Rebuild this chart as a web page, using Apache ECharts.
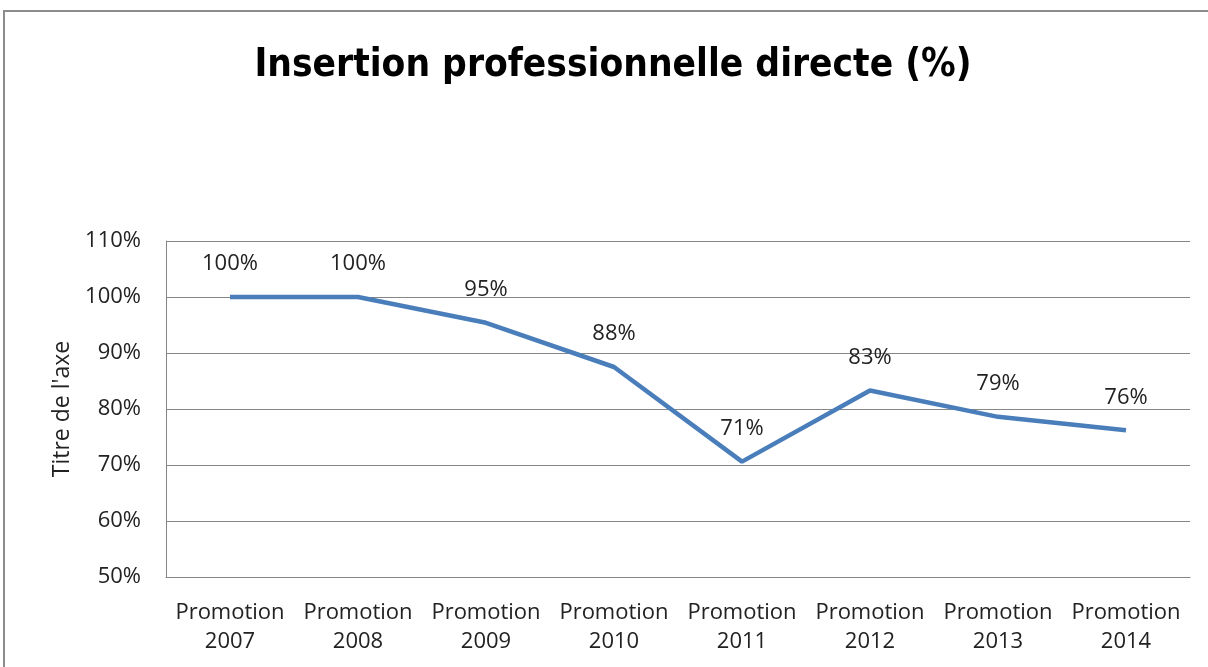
<!DOCTYPE html>
<html>
<head>
<meta charset="utf-8">
<script src="https://cdn.jsdelivr.net/npm/echarts@6/dist/echarts.min.js"></script>
<style>
html,body{margin:0;padding:0;background:#fff;}
#chart{width:1208px;height:667px;}
</style>
</head>
<body>
<div id="chart"></div>
<script>
var titleText = "Insertion professionnelle directe (%)";
var categories = ["Promotion\n2007","Promotion\n2008","Promotion\n2009","Promotion\n2010","Promotion\n2011","Promotion\n2012","Promotion\n2013","Promotion\n2014"];
var values = [100, 100, 95.4, 87.5, 70.6, 83.3, 78.6, 76.2];
var yAxisTitle = "Titre de l'axe";

var chart = echarts.init(document.getElementById('chart'));
var txt = '#222';
chart.setOption({
  backgroundColor: '#ffffff',
  animation: false,
  graphic: [{
    type: 'rect',
    shape: {x: 4, y: 11, width: 1400, height: 900},
    style: {fill: 'none', stroke: '#8c8c8c', lineWidth: 2},
    silent: true
  }],
  title: {
    text: titleText,
    left: 608,
    textAlign: 'center',
    top: 41,
    textStyle: {fontFamily: '"Liberation Sans Narrow", "DejaVu Sans Condensed", sans-serif', fontWeight: 'bold', fontSize: 38.5, color: '#000'}
  },
  grid: {left: 166, right: 18, top: 241, bottom: 90, containLabel: false},
  xAxis: {
    type: 'category',
    data: categories,
    boundaryGap: true,
    axisLine: {show: true, lineStyle: {color: '#868686', width: 1}},
    axisTick: {show: false},
    axisLabel: {fontFamily: 'Open Sans', fontSize: 22, color: txt, lineHeight: 29, margin: 21, interval: 0}
  },
  yAxis: {
    type: 'value',
    min: 50, max: 110, interval: 10,
    name: yAxisTitle,
    nameLocation: 'middle',
    nameGap: 88,
    nameRotate: 90,
    nameTextStyle: {fontFamily: 'Open Sans', fontSize: 23, color: txt},
    axisLine: {show: true, lineStyle: {color: '#868686', width: 1}},
    axisTick: {show: false},
    splitLine: {show: true, lineStyle: {color: '#868686', width: 1}},
    axisLabel: {fontFamily: 'Open Sans', fontSize: 22, color: txt, margin: 25, formatter: function(v){return v + '%';}}
  },
  series: [{
    type: 'line',
    data: values,
    symbol: 'circle',
    symbolSize: 0,
    showSymbol: true,
    lineStyle: {color: '#4A7EBB', width: 4.5},
    itemStyle: {color: '#4A7EBB'},
    label: {
      show: true,
      position: 'top',
      distance: 22,
      fontFamily: 'Open Sans',
      fontSize: 22,
      color: txt,
      formatter: function(p){return Math.round(p.value) + '%';}
    },
    labelLayout: {hideOverlap: false}
  }]
});
</script>
</body>
</html>
